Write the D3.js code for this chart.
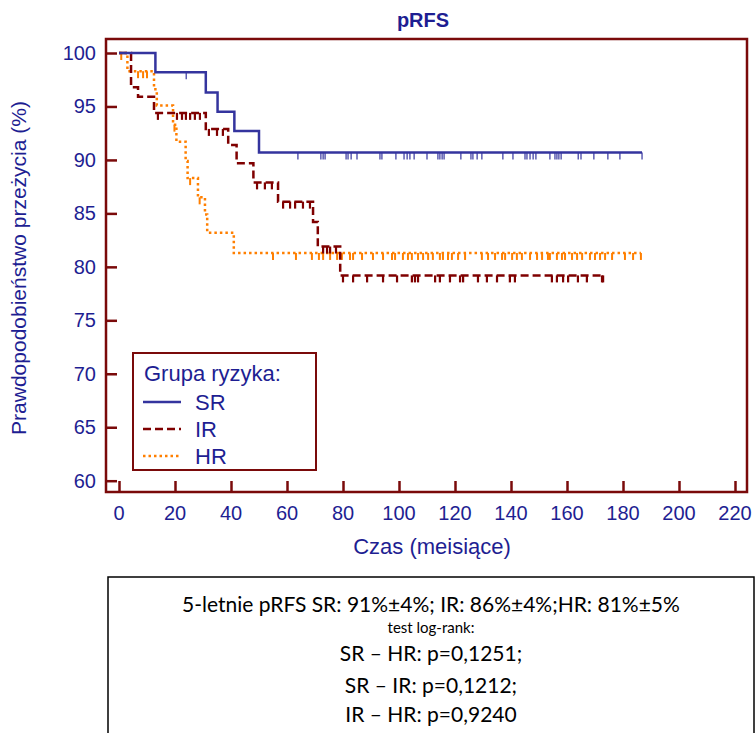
<!DOCTYPE html>
<html>
<head>
<meta charset="utf-8">
<script src="https://cdn.jsdelivr.net/npm/d3@7"></script>
<style>
  body { margin: 0; background: #fff; }
  svg { display: block; }
</style>
</head>
<body>
<script>
// Kaplan-Meier pRFS curves (months, %)
var srTimes    = [0, 13, 31, 35.2, 41.2, 50];
var srSurv     = [100, 98.2, 96.3, 94.5, 92.7, 90.7];
var srCensored = [24, 63.9, 72.1, 72.9, 73.6, 81.1, 81.8, 82.9, 85, 93.2, 93.9, 98.9, 101.8,
                  102.9, 103.9, 105.4, 110, 113.9, 114.6, 115.4, 116.1, 122.1, 125.7, 126.4,
                  127.9, 129.6, 137.1, 140.7, 145, 145.7, 146.8, 147.9, 148.9, 153.9, 155.7,
                  156.4, 157.1, 157.9, 164, 165, 169.6, 174.6, 178.9];
var srEnd      = 186.8;

var irTimes    = [0, 4.3, 6.8, 12.5, 31, 39, 42, 48, 56.8, 69.3, 71, 79];
var irSurv     = [100, 96.8, 95.9, 94.4, 92.9, 91.4, 89.7, 87.9, 86.1, 84.2, 81.9, 79.2];
var irCensored = [13.9, 20.7, 22.5, 23.9, 25.4, 27.1, 28.9, 32.1, 35, 37.1, 49.3, 52.1, 54.6,
                  58.6, 61.1, 62.9, 65.7, 68.2, 72.9, 74.3, 75.4, 77.5, 80, 83.6, 88.6, 94.3,
                  99.3, 104.6, 105.7, 106.8, 112.9, 114.6, 118.2, 121.8, 122.9, 128.2, 131.4,
                  135, 139.6, 141.4, 154.6, 156.4, 158.6, 160.4, 163.9, 167.1, 172.5];
var irEnd      = 172.9;

var hrTimes    = [0, 3, 12.5, 13.5, 19.3, 20.5, 23.8, 24.5, 28.2, 30.7, 31.5, 41];
var hrSurv     = [100, 98.3, 96.6, 95.1, 93.3, 91.7, 89.9, 88.3, 86.5, 84.9, 83.2, 81.3];
var hrCensored = [0.8, 6.8, 8.6, 10, 19.8, 25.4, 28.8, 55, 63.2, 68.9, 71.4, 72.9, 75.4, 77.9,
                  79.6, 82.5, 83.6, 86.8, 90.7, 94.3, 97.5, 98.6, 101.4, 103.2, 104.6, 106.8,
                  108.6, 110.4, 112.1, 114.6, 115.7, 117.5, 118.9, 121.1, 123.6, 129.6, 131.8,
                  134.3, 136.8, 137.9, 140.4, 142.1, 143.9, 146.8, 149.3, 151.1, 153.2, 153.9,
                  156.4, 158.2, 159.3, 161.8, 163.6, 165.4, 168.2, 170, 171.8, 173.6, 176.1,
                  180.7, 183.6];
var hrEnd      = 186.4;

var groupNames = ["SR", "IR", "HR"];
var xTicks = [0, 20, 40, 60, 80, 100, 120, 140, 160, 180, 200, 220];
var yTicks = [60, 65, 70, 75, 80, 85, 90, 95, 100];

var statLines = [
    "5-letnie pRFS SR: 91%\u00b14%; IR: 86%\u00b14%;HR: 81%\u00b15%",
    "test log-rank:",
    "SR \u2013 HR: p=0,1251;",
    "SR \u2013 IR: p=0,1212;",
    "IR \u2013 HR: p=0,9240"];

var W = 756, H = 733;
var textColor = "#1e1e92", frameColor = "#7a0a0a";
var font = "'Liberation Sans', Arial, sans-serif";

var svg = d3.select("body").append("svg")
    .attr("width", W)
    .attr("height", H);

var x = d3.scaleLinear().domain([0, 220]).range([119, 735]);
var y = d3.scaleLinear().domain([60, 100]).range([480.7, 53]);

// plot frame
var frame = { left: 106, top: 39, right: 747, bottom: 492 };

svg.append("rect")
    .attr("x", frame.left).attr("y", frame.top)
    .attr("width", frame.right - frame.left)
    .attr("height", frame.bottom - frame.top)
    .attr("fill", "none")
    .attr("stroke", frameColor)
    .attr("stroke-width", 2.5);

// ticks point inward
var yAxis = d3.axisRight(y).tickValues(yTicks).tickSize(11).tickFormat("");
var gy = svg.append("g").attr("transform", "translate(" + frame.left + ",0)").call(yAxis);
var xAxis = d3.axisTop(x).tickValues(xTicks).tickSize(11).tickFormat("");
var gx = svg.append("g").attr("transform", "translate(0," + frame.bottom + ")").call(xAxis);
[gx, gy].forEach(function(g) {
    g.select(".domain").remove();
    g.selectAll("line").attr("stroke", frameColor).attr("stroke-width", 2.5);
});

svg.append("g").selectAll("text")
    .data(yTicks)
    .enter().append("text")
        .attr("x", 96)
        .attr("y", function(d) { return y(d); })
        .attr("dy", "0.35em")
        .attr("text-anchor", "end")
        .attr("font-family", font)
        .attr("font-size", 20)
        .attr("fill", textColor)
        .text(function(d) { return d; });

svg.append("g").selectAll("text")
    .data(xTicks)
    .enter().append("text")
        .attr("x", function(d) { return x(d); })
        .attr("y", 520)
        .attr("text-anchor", "middle")
        .attr("font-family", font)
        .attr("font-size", 20)
        .attr("fill", textColor)
        .text(function(d) { return d; });

svg.append("text")
    .attr("x", 423).attr("y", 27)
    .attr("text-anchor", "middle")
    .attr("font-family", font)
    .attr("font-weight", "bold")
    .attr("font-size", 20)
    .attr("fill", textColor)
    .text("pRFS");

svg.append("text")
    .attr("transform", "translate(26,268) rotate(-90)")
    .attr("text-anchor", "middle")
    .attr("font-family", font)
    .attr("font-size", 21)
    .attr("fill", textColor)
    .text("Prawdopodobieństwo przeżycia (%)");

svg.append("text")
    .attr("x", 432).attr("y", 554)
    .attr("text-anchor", "middle")
    .attr("font-family", font)
    .attr("font-size", 22)
    .attr("fill", textColor)
    .text("Czas (meisiące)");

// curves
var styles = [
    { color: "#34349e", dash: null,    width: 2.5, tickWidth: 1.2 },
    { color: "#7f0000", dash: "8,4",   width: 2.5, tickWidth: 2.2 },
    { color: "#ff7f00", dash: "2.5,3", width: 2.5, tickWidth: 2 }];

var groups = [
    { times: srTimes, surv: srSurv, censored: srCensored, end: srEnd },
    { times: irTimes, surv: irSurv, censored: irCensored, end: irEnd },
    { times: hrTimes, surv: hrSurv, censored: hrCensored, end: hrEnd }];

var line = d3.line()
    .x(function(d) { return x(d[0]); })
    .y(function(d) { return y(d[1]); })
    .curve(d3.curveStepAfter);

function survAt(g, t) {
    var s = g.surv[0];
    for (var i = 0; i < g.times.length; i++) {
        if (g.times[i] <= t) s = g.surv[i];
    }
    return s;
}

// draw HR first so SR stays on top
[2, 1, 0].forEach(function(k) {
    var g = groups[k], st = styles[k];
    var pts = g.times.map(function(t, i) { return [t, g.surv[i]]; });
    pts.push([g.end, g.surv[g.surv.length - 1]]);

    svg.append("path")
        .datum(pts)
        .attr("d", line)
        .attr("fill", "none")
        .attr("stroke", st.color)
        .attr("stroke-width", st.width)
        .attr("stroke-dasharray", st.dash);

    svg.append("g").selectAll("line")
        .data(g.censored.concat([g.end]))
        .enter().append("line")
            .attr("x1", function(d) { return x(d); })
            .attr("x2", function(d) { return x(d); })
            .attr("y1", function(d) { return y(survAt(g, d)); })
            .attr("y2", function(d) { return y(survAt(g, d)) + 7; })
            .attr("stroke", st.color)
            .attr("stroke-width", st.tickWidth);
});

// legend
var legend = svg.append("g");
legend.append("rect")
    .attr("x", 133).attr("y", 353)
    .attr("width", 183).attr("height", 117)
    .attr("fill", "#fff")
    .attr("stroke", frameColor)
    .attr("stroke-width", 2);
legend.append("text")
    .attr("x", 144).attr("y", 381)
    .attr("font-family", font)
    .attr("font-size", 22)
    .attr("fill", textColor)
    .text("Grupa ryzyka:");

groupNames.forEach(function(name, i) {
    var ly = 402 + i * 27;
    legend.append("line")
        .attr("x1", 143).attr("x2", 181)
        .attr("y1", ly).attr("y2", ly)
        .attr("stroke", styles[i].color)
        .attr("stroke-width", styles[i].width)
        .attr("stroke-dasharray", styles[i].dash);
    legend.append("text")
        .attr("x", 195).attr("y", ly)
        .attr("dy", "0.35em")
        .attr("font-family", font)
        .attr("font-size", 22)
        .attr("fill", textColor)
        .text(name);
});

// statistics box
svg.append("rect")
    .attr("x", 108).attr("y", 577)
    .attr("width", 646).attr("height", 160)
    .attr("fill", "none")
    .attr("stroke", "#000")
    .attr("stroke-width", 1.5);

var statY = [612, 633, 661, 693, 722];
var statSize = [21, 15, 21, 21, 21];
svg.append("g").selectAll("text")
    .data(statLines)
    .enter().append("text")
        .attr("x", 431)
        .attr("y", function(d, i) { return statY[i]; })
        .attr("text-anchor", "middle")
        .attr("font-family", "Lato, 'Open Sans', sans-serif")
        .attr("font-size", function(d, i) { return statSize[i]; })
        .attr("fill", "#000")
        .text(function(d) { return d; });
</script>
</body>
</html>
